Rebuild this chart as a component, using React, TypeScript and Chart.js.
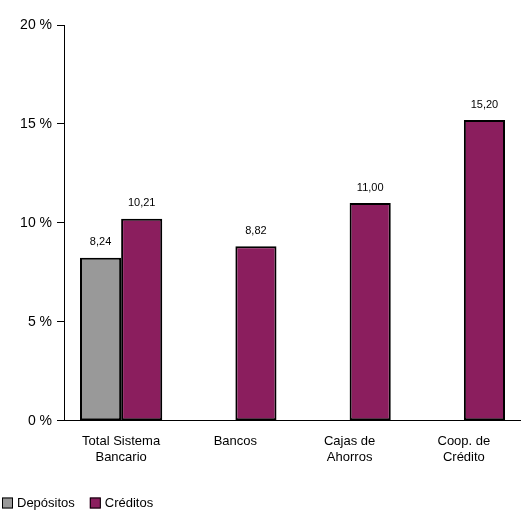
import React, { useEffect, useRef } from "react";
import { Chart, registerables } from "chart.js";
Chart.register(...registerables);

const categories = [["Total Sistema", "Bancario"], ["Bancos"], ["Cajas de", "Ahorros"], ["Coop. de", "Crédito"]];
const depositos = [8.24, null, null, null];
const creditos = [10.21, 8.82, 11.0, 15.2];
const yTicks = [0, 5, 10, 15, 20];
const seriesNames = ["Depósitos", "Créditos"];
const seriesColors = ["#999999", "#8B1E5E"];

const labelPlugin = {
  id: "vals",
  afterDatasetsDraw(chart: any) {
    const ctx = chart.ctx;
    ctx.save();
    ctx.font = "11px 'Liberation Sans', Arial";
    ctx.fillStyle = "#000";
    ctx.textAlign = "center";
    ctx.textBaseline = "bottom";
    chart.data.datasets.forEach((ds: any, i: number) => {
      chart.getDatasetMeta(i).data.forEach((el: any, j: number) => {
        const v = ds.data[j];
        if (v == null) return;
        ctx.fillText(v.toFixed(2).replace(".", ","), el.x, el.y - 10);
      });
    });
    ctx.font = "13px 'Liberation Sans', Arial";
    ctx.textAlign = "left";
    ctx.textBaseline = "middle";
    let x = 2;
    const y = 503;
    chart.data.datasets.forEach((ds: any) => {
      ctx.fillStyle = ds.backgroundColor;
      ctx.fillRect(x, y - 5.5, 11, 11);
      ctx.strokeStyle = "#000";
      ctx.lineWidth = 1;
      ctx.strokeRect(x + 0.5, y - 5, 10, 10);
      ctx.fillStyle = "#000";
      ctx.fillText(ds.label, x + 15, y);
      x += 15 + ctx.measureText(ds.label).width + 15;
    });
    ctx.restore();
  },
};

export default function App() {
  const ref = useRef<HTMLCanvasElement>(null);
  useEffect(() => {
    document.body.style.margin = "0";
    const font = { family: "'Liberation Sans', Arial", size: 13 };
    const common = { borderColor: "#000", borderWidth: 2, borderSkipped: false, barPercentage: 1, categoryPercentage: 0.72 };
    const chart = new Chart(ref.current!, {
      type: "bar",
      data: {
        labels: categories,
        datasets: [
          { label: seriesNames[0], data: depositos, backgroundColor: seriesColors[0], ...common },
          { label: seriesNames[1], data: creditos, backgroundColor: seriesColors[1], ...common },
        ],
      },
      options: {
        animation: false,
        responsive: false,
        layout: { padding: { top: 25, right: 0, left: 2, bottom: 18 } },
        plugins: {
          legend: { display: false },
          tooltip: { enabled: false },
        },
        scales: {
          x: {
            grid: { display: false },
            border: { color: "#000" },
            ticks: { color: "#000", font, maxRotation: 0, padding: 5 },
            afterFit: (s: any) => { s.height += 23; },
          },
          y: {
            min: 0,
            max: 20,
            afterBuildTicks: (s: any) => { s.ticks = yTicks.map((v) => ({ value: v })); },
            grid: { drawOnChartArea: false, color: "#000", tickLength: 7 },
            border: { color: "#000" },
            ticks: { color: "#000", font: { ...font, size: 14 }, callback: (v: any) => v + " %", padding: 5 },
            afterFit: (s: any) => { s.width = 62; },
          },
        },
      },
      plugins: [labelPlugin],
    });
    return () => chart.destroy();
  }, []);
  return <canvas ref={ref} width={521} height={511} style={{ display: "block" }} />;
}
